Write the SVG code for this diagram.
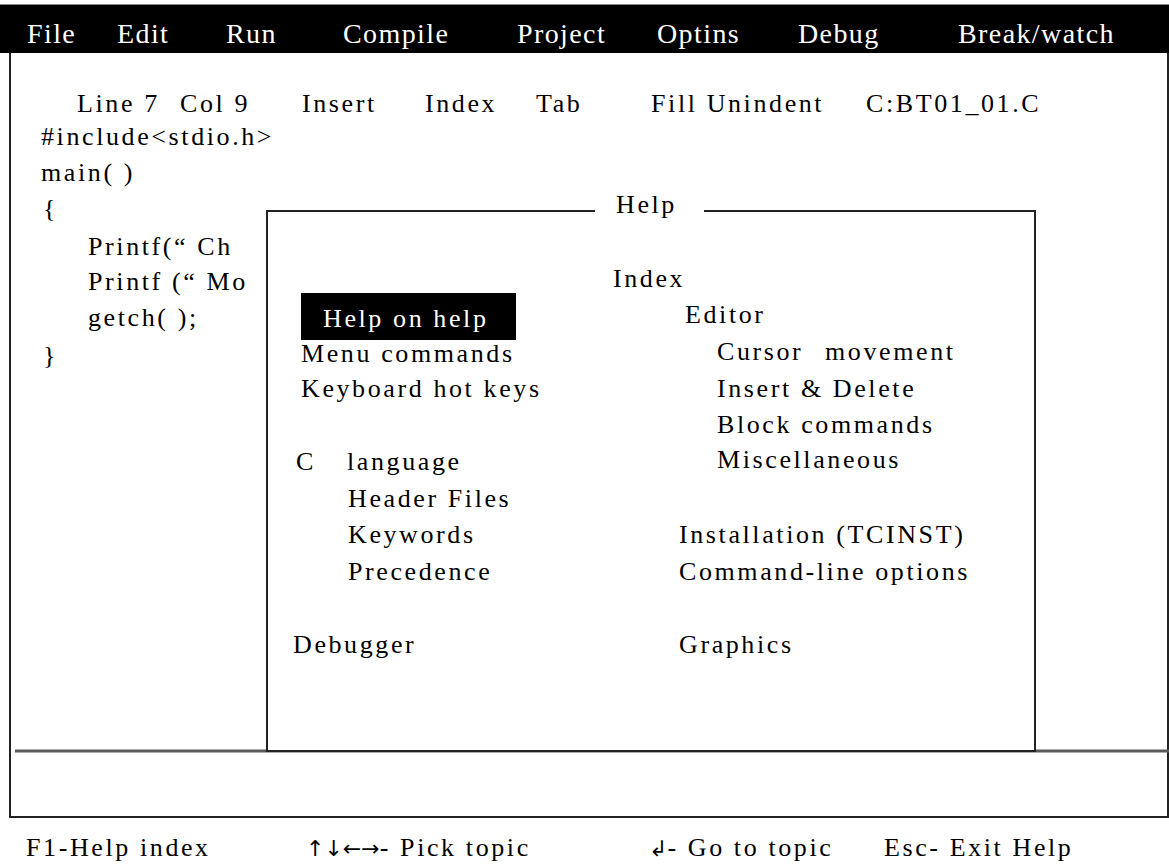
<svg xmlns="http://www.w3.org/2000/svg" width="1169" height="865" viewBox="0 0 1169 865">
  <style>
    text { font-family: "Liberation Serif", "Times New Roman", serif; font-size: 26px; letter-spacing: 2.6px; fill: #000; }
    .menu { font-size: 28px; letter-spacing: 1.4px; fill: #fff; }
    .inv { fill: #fff; }
    .tight { letter-spacing: 0; }
    .frame { fill: none; stroke: #222; stroke-width: 2; }
    .rule { fill: none; stroke: #5a5a5a; stroke-width: 3; }
  </style>

  <rect width="1169" height="865" fill="#fff"/>

  <!-- menu bar -->
  <g id="menubar">
    <line x1="0" y1="4.5" x2="1169" y2="4.5" stroke="#888" stroke-width="1"/>
    <rect x="0" y="5" width="1169" height="48" fill="#000"/>
    <text class="menu" x="27" y="43">File</text>
    <text class="menu" x="117" y="43">Edit</text>
    <text class="menu" x="226" y="43">Run</text>
    <text class="menu" x="343" y="43">Compile</text>
    <text class="menu" x="517" y="43">Project</text>
    <text class="menu" x="657" y="43">Optins</text>
    <text class="menu" x="798" y="43">Debug</text>
    <text class="menu" x="958" y="43">Break/watch</text>
  </g>

  <!-- editor window frame -->
  <g id="editor-frame">
    <polyline class="frame" points="10,53 10,817 1168,817 1168,53"/>
    <line class="rule" x1="15" y1="751" x2="1169" y2="751"/>
  </g>

  <!-- status line -->
  <g id="status">
    <text x="77" y="112">Line 7</text>
    <text x="180" y="112">Col 9</text>
    <text x="302" y="112">Insert</text>
    <text x="425" y="112">Index</text>
    <text x="536" y="112">Tab</text>
    <text x="651" y="112">Fill Unindent</text>
    <text x="866" y="112">C:BT01_01.C</text>
  </g>

  <!-- source code -->
  <g id="source">
    <text x="41" y="145">#include&lt;stdio.h&gt;</text>
    <text x="41" y="181">main( )</text>
    <text x="43" y="217">{</text>
    <text x="88" y="255">Printf(“ Ch</text>
    <text x="88" y="290">Printf (“ Mo</text>
    <text x="88" y="326">getch( );</text>
    <text x="43" y="364">}</text>
  </g>

  <!-- help window -->
  <g id="help-window">
    <rect x="266" y="211" width="769" height="540" fill="#fff"/>
    <polyline class="frame" points="595,211 267,211 267,751 1035,751 1035,211 704,211"/>
    <text x="616" y="213">Help</text>
  </g>

  <g id="help-left">
    <rect x="301" y="293" width="215" height="47" fill="#000"/>
    <text class="inv" x="323" y="327">Help on help</text>
    <text x="301" y="362">Menu commands</text>
    <text x="301" y="397">Keyboard hot keys</text>
    <text x="296" y="470">C</text>
    <text x="347" y="470">language</text>
    <text x="348" y="507">Header Files</text>
    <text x="348" y="543">Keywords</text>
    <text x="348" y="580">Precedence</text>
    <text x="293" y="653">Debugger</text>
  </g>

  <g id="help-right">
    <text x="613" y="287">Index</text>
    <text x="685" y="323">Editor</text>
    <text x="717" y="360">Cursor</text>
    <text x="825" y="360">movement</text>
    <text x="717" y="397">Insert &amp; Delete</text>
    <text x="717" y="433">Block commands</text>
    <text x="717" y="468">Miscellaneous</text>
    <text x="679" y="543">Installation  (TCINST)</text>
    <text x="679" y="580">Command-line options</text>
    <text x="679" y="653">Graphics</text>
  </g>

  <!-- key hints -->
  <g id="footer">
    <text x="26" y="856">F1-Help index</text>
    <text x="306" y="856"><tspan class="tight" font-family="DejaVu Sans, sans-serif" font-size="22">↑↓←→</tspan>- Pick topic</text>
    <text x="649" y="856"><tspan class="tight" font-family="DejaVu Sans, sans-serif" font-size="22">↲</tspan>- Go to topic</text>
    <text x="884" y="856">Esc- Exit Help</text>
  </g>
</svg>
